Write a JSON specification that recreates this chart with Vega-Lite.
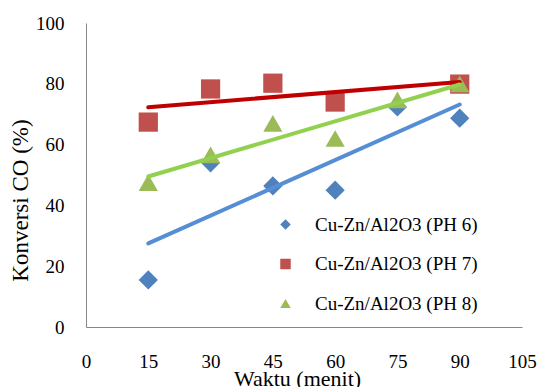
{
  "$schema": "https://vega.github.io/schema/vega-lite/v6.json",
  "autosize": "none",
  "padding": {"left": 86, "top": 23, "right": 19, "bottom": 60},
  "width": 436,
  "height": 304,
  "background": "white",
  "config": {
    "view": {"stroke": null},
    "axis": {
      "grid": false,
      "ticks": false,
      "domainColor": "#868686",
      "domainWidth": 1,
      "labelFont": "Liberation Serif",
      "labelFontSize": 19,
      "labelColor": "#000000",
      "titleFont": "Liberation Serif",
      "titleFontWeight": "normal",
      "titleColor": "#000000"
    }
  },
  "data": {
    "values": [
      {"waktu": 15, "konversi": 15.5, "seri": "Cu-Zn/Al2O3 (PH 6)"},
      {"waktu": 30, "konversi": 54, "seri": "Cu-Zn/Al2O3 (PH 6)"},
      {"waktu": 45, "konversi": 46.4, "seri": "Cu-Zn/Al2O3 (PH 6)"},
      {"waktu": 60, "konversi": 45, "seri": "Cu-Zn/Al2O3 (PH 6)"},
      {"waktu": 75, "konversi": 72.4, "seri": "Cu-Zn/Al2O3 (PH 6)"},
      {"waktu": 90, "konversi": 68.7, "seri": "Cu-Zn/Al2O3 (PH 6)"},
      {"waktu": 15, "konversi": 67.4, "seri": "Cu-Zn/Al2O3 (PH 7)"},
      {"waktu": 30, "konversi": 78.3, "seri": "Cu-Zn/Al2O3 (PH 7)"},
      {"waktu": 45, "konversi": 80.2, "seri": "Cu-Zn/Al2O3 (PH 7)"},
      {"waktu": 60, "konversi": 74, "seri": "Cu-Zn/Al2O3 (PH 7)"},
      {"waktu": 90, "konversi": 79.9, "seri": "Cu-Zn/Al2O3 (PH 7)"},
      {"waktu": 15, "konversi": 47.5, "seri": "Cu-Zn/Al2O3 (PH 8)"},
      {"waktu": 30, "konversi": 56.6, "seri": "Cu-Zn/Al2O3 (PH 8)"},
      {"waktu": 45, "konversi": 67, "seri": "Cu-Zn/Al2O3 (PH 8)"},
      {"waktu": 60, "konversi": 62, "seri": "Cu-Zn/Al2O3 (PH 8)"},
      {"waktu": 75, "konversi": 74.7, "seri": "Cu-Zn/Al2O3 (PH 8)"},
      {"waktu": 90, "konversi": 80, "seri": "Cu-Zn/Al2O3 (PH 8)"}
    ]
  },
  "encoding": {
    "x": {
      "field": "waktu",
      "type": "quantitative",
      "scale": {"domain": [0, 105], "nice": false, "zero": false},
      "axis": {"values": [0, 15, 30, 45, 60, 75, 90, 105], "labelPadding": 25, "title": "Waktu (menit)", "titleFontSize": 22, "titleX": 211, "titleY": 41, "labelFlush": false}
    },
    "y": {
      "field": "konversi",
      "type": "quantitative",
      "scale": {"domain": [0, 100], "nice": false},
      "axis": {"values": [0, 20, 40, 60, 80, 100], "labelPadding": 22, "title": "Konversi CO (%)", "titleFontSize": 23, "titleY": 177, "titlePadding": 3}
    }
  },
  "layer": [
    {
      "mark": {"type": "point", "filled": true, "opacity": 1, "size": 370},
      "encoding": {
        "color": {
          "field": "seri",
          "type": "nominal",
          "scale": {"range": ["#4F81BD", "#C0504D", "#9BBB59"]},
          "legend": {
            "title": null,
            "orient": "none",
            "legendX": 190,
            "legendY": 192,
            "labelFont": "Liberation Serif",
            "labelFontSize": 19,
            "labelColor": "#000000",
            "symbolSize": 110,
            "symbolStrokeWidth": 0,
            "rowPadding": 19.5,
            "labelOffset": 20,
            "labelLimit": 300
          }
        },
        "shape": {
          "field": "seri",
          "type": "nominal",
          "scale": {"range": ["diamond", "square", "triangle-up"]},
          "legend": {
            "title": null,
            "orient": "none",
            "legendX": 190,
            "legendY": 192,
            "labelFont": "Liberation Serif",
            "labelFontSize": 19,
            "labelColor": "#000000",
            "symbolSize": 110,
            "symbolStrokeWidth": 0,
            "rowPadding": 19.5,
            "labelOffset": 20,
            "labelLimit": 300
          }
        }
      }
    },
    {
      "transform": [
        {"regression": "konversi", "on": "waktu", "groupby": ["seri"], "extent": [15, 90]}
      ],
      "mark": {"type": "line", "strokeWidth": 4, "strokeCap": "round"},
      "encoding": {
        "stroke": {
          "field": "seri",
          "type": "nominal",
          "scale": {"range": ["#558ED5", "#C00000", "#92D050"]},
          "legend": null
        }
      }
    }
  ]
}
